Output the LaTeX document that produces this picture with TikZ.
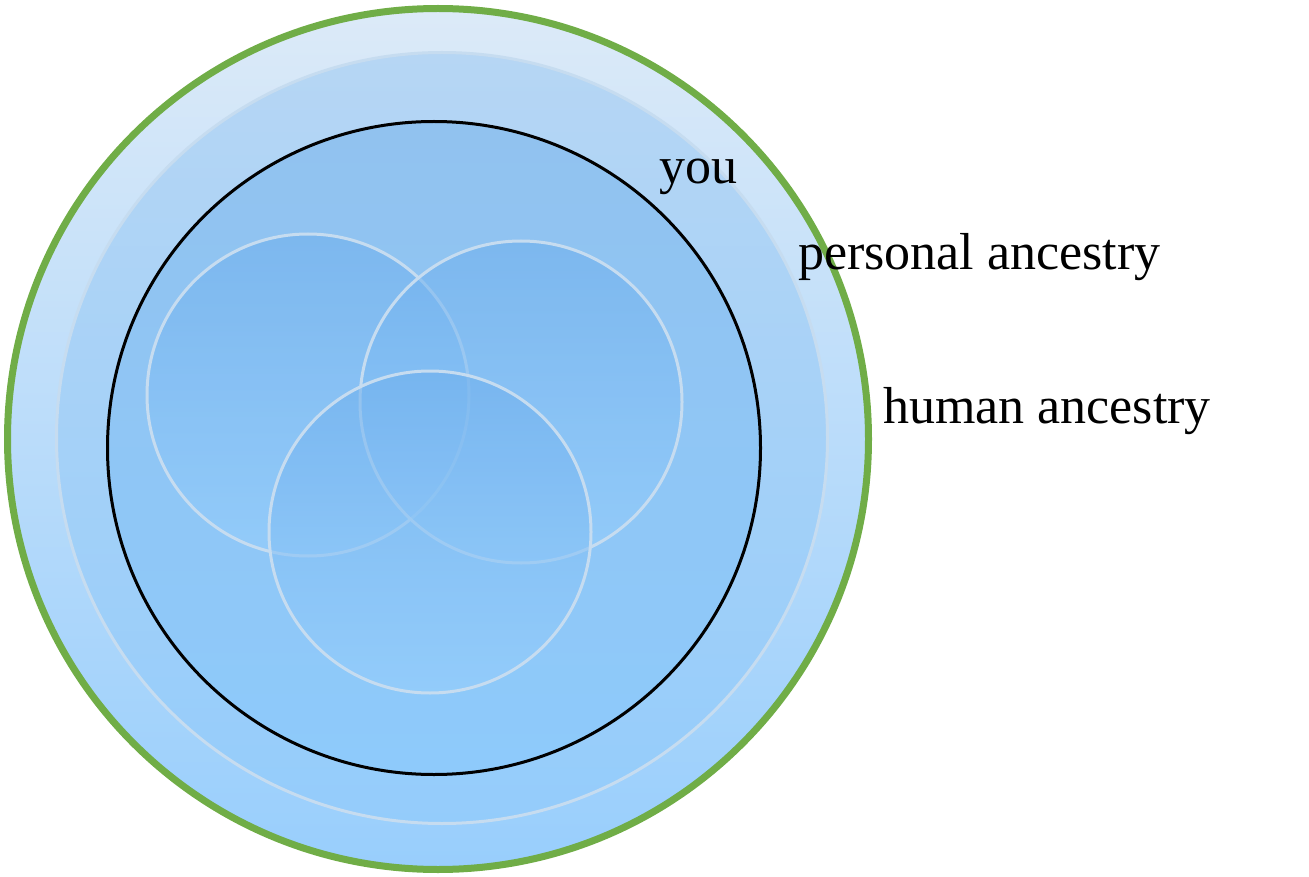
\documentclass[tikz,border=0pt]{standalone}
\usepackage{fontspec}
\setmainfont{Liberation Serif}
\usepackage{tikz}
\usetikzlibrary{positioning}
\definecolor{ringgreen}{HTML}{70AD47}
\definecolor{rimline}{HTML}{C6DCF0}
\tikzset{
every node/.style={inner sep=0pt, outer sep=0pt}, % circles sit exactly on their size
disc/.style={circle, shading=axis}, % a round shape with a vertical shading
label text/.style={anchor=base west, font=\fontsize{52}{60}\selectfont}, % the three labels
}

\begin{document}
\begin{tikzpicture}[x=1pt, y=-1pt]
    \useasboundingbox (0,0) rectangle (1309,877);
    % the three nested rings
    \node[disc, minimum size=861, draw=ringgreen, line width=7,
          top color={rgb,255:red,220;green,234;blue,248}, bottom color={rgb,255:red,152;green,206;blue,252}] (human ring) at (438,439) {};
    \node[disc, minimum size=771, draw=rimline, line width=3,
          top color={rgb,255:red,182;green,214;blue,244}, middle color={rgb,255:red,140;green,194;blue,242},
          bottom color={rgb,255:red,148;green,204;blue,251}] (personal ring) at (442,438) {};
    \node[disc, minimum size=653, draw=black, line width=3,
          top color={rgb,255:red,145;green,194;blue,239}, middle color={rgb,255:red,118;green,182;blue,240},
          bottom color={rgb,255:red,142;green,202;blue,251}] (you ring) at (434,448) {};
    % the overlapping small circles
    \foreach \name/\x/\y in {left/308/395, right/521/402, bottom/430/532}
        \node[disc, minimum size=322, draw=rimline, line width=3, fill opacity=0.6,
              top color={rgb,255:red,112;green,176;blue,237}, bottom color={rgb,255:red,150;green,206;blue,252}] (\name) at (\x,\y) {};
    % labels
    \node[label text] (you) at (659,184) {you};
    \node[label text] (personal) at (798,270) {personal ancestry};
    \node[label text] (human) at (883,423) {human ancestry};
\end{tikzpicture}
\end{document}
